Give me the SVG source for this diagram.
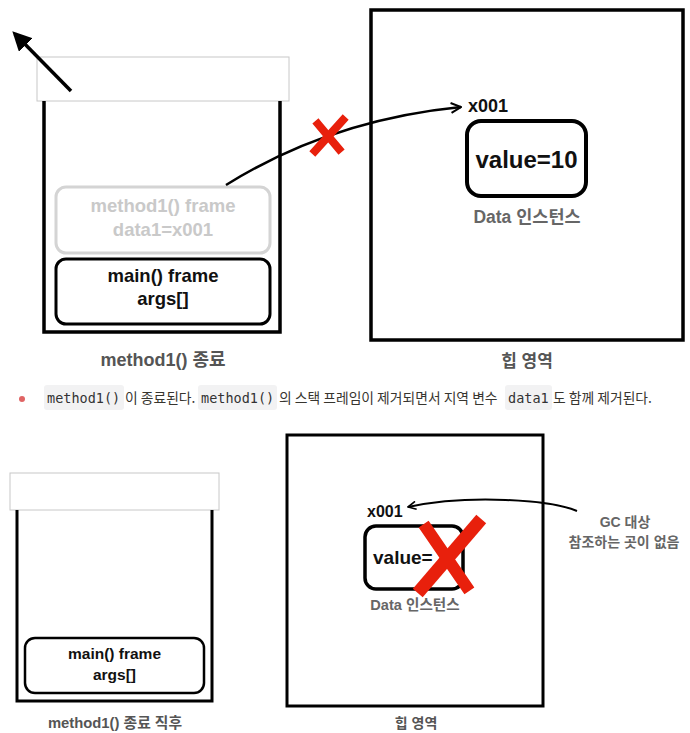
<svg xmlns="http://www.w3.org/2000/svg" width="690" height="733" viewBox="0 0 690 733">
<style>
.lbl{font-family:"Liberation Sans","Noto Sans CJK KR",Arial,sans-serif;font-weight:bold;text-anchor:middle}
.cap{fill:#555;font-size:17px}
.dark{fill:#111}
.gray{fill:#c9c9c9}
.sub{fill:#666}
.box{fill:none;stroke:#000}
.lid{fill:#fff;stroke:#c8c8c8;stroke-width:1}
.xred{stroke:#e8200c;stroke-linecap:square;fill:none}
.code{fill:#f2f2f3}
.mono{font-family:"DejaVu Sans Mono","Liberation Mono",monospace;font-size:13.5px;fill:#333}
.body{font-family:"Noto Sans CJK KR","Noto Sans",sans-serif;font-size:13.8px;fill:#37352f}
</style>
<defs>
<marker id="fill" viewBox="0 0 10 10" refX="8" refY="5" markerWidth="5.5" markerHeight="5.5" orient="auto" markerUnits="strokeWidth">
<path d="M0,0 L10,5 L0,10 Z" fill="#000"/>
</marker>
<marker id="open" viewBox="0 0 10 10" refX="9" refY="5" markerWidth="5" markerHeight="5" orient="auto" markerUnits="strokeWidth">
<path d="M1,1 L9,5 L1,9" fill="none" stroke="#000" stroke-width="1.6"/>
</marker>
</defs>

<!-- TOP: stack -->
<g id="stack1">
<rect class="lid" x="37" y="57" width="252" height="44"/>
<path class="box" d="M44,101 V332 H280 V101" stroke-width="3.5"/>
</g>
<g id="method1-frame">
<rect x="56" y="187" width="214" height="66" rx="10" fill="none" stroke="#d4d4d4" stroke-width="3"/>
<text class="lbl gray" x="163" y="212" font-size="18.5">method1() frame</text>
<text class="lbl gray" x="163" y="236" font-size="18.5">data1=x001</text>
</g>
<g id="main-frame1">
<rect class="box" x="56" y="259" width="214" height="65" rx="10" stroke-width="3"/>
<text class="lbl dark" x="163" y="282" font-size="18.5">main() frame</text>
<text class="lbl dark" x="163" y="305" font-size="18.5">args[]</text>
</g>
<text class="lbl cap" x="163" y="366" style="font-size:18px">method1() 종료</text>

<!-- TOP: heap -->
<g id="heap1">
<rect class="box" x="371" y="10" width="312" height="330" stroke-width="3.5"/>
<text class="lbl cap" x="527" y="367">힙 영역</text>
</g>
<g id="data1">
<text class="lbl dark" x="468" y="112" font-size="18" style="text-anchor:start">x001</text>
<rect class="box" x="467" y="121" width="119" height="75" rx="14" stroke-width="4"/>
<text class="lbl dark" x="526.5" y="168" font-size="24">value=10</text>
<text class="lbl sub" x="527" y="223" font-size="17.5">Data 인스턴스</text>
</g>

<!-- connectors -->
<g id="connectors">
<line x1="71" y1="91" x2="15" y2="34" stroke="#000" stroke-width="3.5" marker-end="url(#fill)"/>
<path d="M226,185 Q330,120 461,107" fill="none" stroke="#000" stroke-width="2.5" marker-end="url(#open)"/>
<path d="M577,511 C550,500 470,494 408,507" fill="none" stroke="#000" stroke-width="2" marker-end="url(#open)"/>
</g>

<!-- red X marks -->
<g id="x-top">
<line class="xred" x1="343" y1="120" x2="315" y2="151" stroke-width="8"/>
<line class="xred" x1="318" y1="124" x2="339" y2="149" stroke-width="8"/>
</g>

<!-- middle text -->
<g id="caption-line">
<circle cx="22" cy="399" r="3" fill="#e06464"/>
<rect class="code" x="44" y="385" width="80" height="25" rx="3"/>
<text class="mono" x="47" y="403">method1()</text>
<text class="body" x="125" y="403">이 종료된다.</text>
<rect class="code" x="198" y="385" width="79" height="25" rx="3"/>
<text class="mono" x="201" y="403">method1()</text>
<text class="body" x="279" y="403">의 스택 프레임이 제거되면서 지역 변수</text>
<rect class="code" x="505" y="385" width="47" height="25" rx="3"/>
<text class="mono" x="508" y="403">data1</text>
<text class="body" x="553" y="403">도 함께 제거된다.</text>
</g>

<!-- BOTTOM: stack -->
<g id="stack2">
<rect class="lid" x="10" y="473" width="209" height="37"/>
<path class="box" d="M17,510 V701 H212 V510" stroke-width="3"/>
</g>
<g id="main-frame2">
<rect class="box" x="25" y="638" width="179" height="55" rx="10" stroke-width="2.5"/>
<text class="lbl dark" x="114.5" y="659" font-size="15.5">main() frame</text>
<text class="lbl dark" x="114.5" y="680" font-size="15.5">args[]</text>
</g>
<text class="lbl cap" x="115" y="728" style="font-size:14.8px">method1() 종료 직후</text>

<!-- BOTTOM: heap -->
<g id="heap2">
<rect class="box" x="287" y="435" width="256" height="271" stroke-width="3"/>
<text class="lbl cap" x="416" y="728" style="font-size:14px">힙 영역</text>
</g>
<g id="data2">
<text class="lbl dark" x="367" y="517" font-size="16" style="text-anchor:start">x001</text>
<rect class="box" x="365" y="526" width="98" height="63" rx="11" stroke-width="3.5"/>
<text class="lbl dark" x="373" y="564" font-size="19" style="text-anchor:start">value=</text>
<text class="lbl sub" x="415" y="610" font-size="14.6">Data 인스턴스</text>
</g>
<g id="x-bottom">
<line class="xred" x1="477" y1="524" x2="422" y2="588" stroke-width="13"/>
<line class="xred" x1="427" y1="529" x2="466" y2="586" stroke-width="12"/>
</g>
<g id="gc-note">
<text class="lbl sub" x="625" y="527" font-size="14">GC 대상</text>
<text class="lbl sub" x="624" y="547" font-size="14">참조하는 곳이 없음</text>
</g>
</svg>
